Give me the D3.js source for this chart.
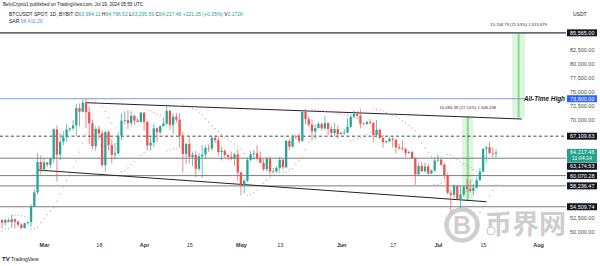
<!DOCTYPE html>
<meta charset="utf-8">
<script src="https://d3js.org/d3.v7.min.js"></script>
<style>
  body { margin: 0; background: #fff; }
  svg { display: block; font-family: "Liberation Sans", Arial, sans-serif; }
</style>
<div id="chart"></div>
<script>
// BTCUSDT spot, daily candles from Feb 16 to Jul 19 2024 (one value per day)
var firstDay = "2024-02-16";
var open = [51937,52160,51663,52122,51780,52284,51839,51304,50731,51571,51733,54522,57085,62504,
  61198,62440,62029,63168,68330,63801,66106,66925,68300,68498,69020,72125,71481,73083,71397,69403,65315,68390,67609,61937,67840,65501,63797,64037,67211,69880,69988,69451,70745,69893,69645,
  71333,69702,65446,65980,68508,67837,68896,69362,71631,69139,70587,70060,67195,63924,65739,63420,63793,61276,63512,63843,64994,64927,66837,66408,64277,64482,63756,63420,63113,63842,
  60637,58254,59123,62889,63891,64031,63161,62334,61187,63049,60792,60793,61448,62901,61552,66256,65231,67051,66940,66278,71446,70148,69166,67969,68549,69290,68507,69436,68398,67652,68353,
  67491,67707,67751,68805,70567,71082,70757,69342,69305,69648,69508,67322,68241,66757,66012,66191,66639,66490,65140,64960,64828,64096,64253,63180,60277,61804,60864,61706,60428,60986,
  62772,62900,62029,60173,56977,56662,58240,55857,56714,58051,57725,57344,57900,59231,60788,64870,65097,64119,63994];
var high = [52816,52191,52377,52485,52985,52372,52020,51548,51684,51950,54938,57588,64000,63676,
  63230,62433,63230,68500,69000,67637,67995,69347,68670,69931,72880,72965,73650,73777,72358,70043,68845,68957,68124,68106,68240,66650,65976,67622,71150,71561,71769,71552,70913,70355,71366,
  71342,69708,66914,69291,68725,69000,70327,72797,71758,71172,71256,71227,67932,65840,66868,64355,64486,64125,65481,65446,65665,67233,67199,67075,65275,64789,63923,64370,64174,64735,
  60780,59602,63320,64494,64646,65500,64390,62985,63421,63469,61490,61818,63450,63118,66444,66712,67459,67387,67700,71515,71979,70666,70096,69250,69610,69562,70687,69591,68935,69500,69044,
  67857,68409,70288,71063,71759,71625,71997,69560,69850,70195,69550,69999,68449,67316,66402,66998,67188,66491,65727,66482,65066,64521,64525,63369,62295,62480,62389,62225,61197,63058,
  63861,63288,62272,60498,57500,58475,58371,58236,58296,59470,59359,58526,59850,61420,64900,65388,66128,65133,64797];
var low = [51330,50625,51163,51715,50760,50625,50935,50500,50585,51280,50901,54450,56691,60364,
  60777,61600,61320,62387,59005,62848,65537,66115,67951,68150,67194,68845,71334,68555,65630,64780,64545,66594,61555,60775,64529,62260,63038,63825,66385,69280,68359,68903,69076,69601,69562,
  68110,64586,64493,65113,66011,67441,68824,69040,68210,67518,69571,65254,60660,62134,62274,61716,59768,60833,59651,63172,64278,64500,65864,63590,62783,63322,62824,62781,61795,59120,
  56553,56937,58848,62599,62822,62700,62300,60888,60769,60187,60492,60632,60750,61142,61330,64613,65119,66600,65857,66060,69162,68832,66300,66600,68500,68128,68250,67277,67124,67131,66670,
  67386,67316,67613,68565,70383,70119,68500,69210,69125,69172,66052,66902,66763,65056,65871,66034,65104,64060,64693,64559,63379,63943,63178,58402,60239,60712,60606,60063,60383,60712,
  62497,61807,59419,56771,53485,56018,55793,54260,56289,57157,57053,56590,57756,59200,60633,62432,63900,63245,63296];
var close = [52160,51663,52122,51780,52284,51839,51304,50731,51571,51733,54522,57085,62504,61198,
  62440,62029,63168,68330,63801,66106,66925,68300,68498,69020,72125,71481,73083,71397,69403,65315,68390,67609,61937,67840,65501,63797,64037,67211,69880,69988,69451,70745,69893,69645,71333,
  69702,65446,65980,68508,67837,68896,69362,71631,69139,70587,70060,67195,63924,65739,63420,63793,61276,63512,63843,64994,64927,66837,66408,64277,64482,63756,63420,63113,63842,60637,
  58254,59123,62889,63891,64031,63161,62334,61187,63049,60792,60793,61448,62901,61552,66256,65231,67051,66940,66278,71446,70148,69166,67969,68549,69290,68507,69436,68398,67652,68353,67491,
  67707,67751,68805,70567,71082,70757,69342,69305,69648,69508,67322,68241,66757,66012,66191,66639,66490,65140,64960,64828,64096,64253,63180,60277,61804,60864,61706,60428,60986,62772,
  62900,62029,60173,56977,56662,58240,55857,56714,58051,57725,57344,57900,59231,60788,64870,65097,64119,63994,64217];
// parabolic SAR dots, one per day
var sar = [49700,50199,50618,50625,52985,52985,52985,52891,52748,52613,50500,50589,50869,51657,
  52398,53094,53748,54363,55494,56845,58060,59154,60377,61453,62640,64278,65842,67404,73777,73777,73417,72885,72385,71519,70445,69478,68608,67825,60775,60983,61406,62028,62612,63161,63677,
  64163,71769,71625,71340,71066,70803,70551,64493,64659,64822,64982,65138,72797,72554,72316,72083,71855,71372,70908,70233,69598,69001,68440,67913,67417,66951,66513,66101,65714,65350,
  64852,64022,56553,56688,57000,57459,58102,58694,59238,59739,60187,60187,60492,60632,60750,61142,61330,62065,62712,63410,64707,66016,71979,71865,71754,71645,71538,71433,71330,71229,71130,
  71033,70938,70845,66300,66395,66610,66816,67127,67419,67694,71997,71878,71761,71647,71383,71130,70887,70654,70258,69886,69536,69043,68590,68049,66891,65872,64976,64187,63493,58402,
  58495,58710,58916,63861,63719,63310,62917,62540,62178,61830,61496,61176,60868,53485,54300,55300,56400,57450,58411];

// horizontal levels drawn on the chart
var resistanceTarget = 85565.00;
var allTimeHigh = 73800.00;
var dashedLevel = 67109.63;
var supports = [63174.53, 60070.28, 58236.47, 54509.74];
var lastPrice = 64217.46;
var countdown = "11:04:14";

// channel lines [date, price]
var channelTop = [["2024-03-14", 73089], ["2024-07-27", 70178]];
var channelBottom = [["2024-02-28", 61071], ["2024-07-16", 55411]];

// price range measurements
var ranges = [
  {from: "2024-07-08T12:00Z", to: "2024-07-12", low: 55576, high: 70660, label: "15,084.38 (27.14%) 1,508,438"},
  {from: "2024-07-24", to: "2024-07-28", low: 70406, high: 85565, label: "15,158.79 (21.53%) 1,515,879"}
];

var priceTicks = [50000, 52500, 55000, 57500, 60000, 62500, 65000, 67500, 70000, 72500, 75000, 77500, 80000, 82500, 85000];
var timeTicks = ["2024-03-01", "2024-03-18", "2024-04-01", "2024-04-15", "2024-05-01", "2024-05-13", "2024-06-01", "2024-06-17", "2024-07-01", "2024-07-15", "2024-08-01"];
var timeLabels = ["Mar", "18", "Apr", "15", "May", "13", "Jun", "17", "Jul", "15", "Aug"];

var W = 600, H = 266, plotRight = 566;
var upColor = "#26a69a", downColor = "#ef5350";

var svg = d3.select("#chart").append("svg").attr("width", W).attr("height", H);

var x = d3.scaleUtc()
  .domain([new Date("2024-03-01"), new Date("2024-08-01")])
  .range([44, 538]);
var y = d3.scaleLinear().domain([50000, 85000]).range([232, 36]);

var day0 = new Date(firstDay);
var candles = close.map(function(c, i) {
  return {date: d3.utcDay.offset(day0, i), o: open[i], h: high[i], l: low[i], c: c, sar: sar[i]};
});

// header
var head = svg.append("g").attr("fill", "#131722");
head.append("text").attr("x", 3).attr("y", 6).attr("font-size", 4.6)
  .text("BeInCrypto1 published on TradingView.com, Jul 19, 2024 05:55 UTC");
var l2 = head.append("text").attr("x", 9).attr("y", 15.5).attr("font-size", 5);
l2.append("tspan").text("BTCUSDT SPOT, 1D, BYBIT ");
[["O", "63,994.11"], ["H", "64,796.52"], ["L", "63,295.59"], ["C", "64,217.46"]].forEach(function(p) {
  l2.append("tspan").text(" " + p[0]);
  l2.append("tspan").attr("fill", upColor).text(p[1]);
});
l2.append("tspan").attr("fill", upColor).text(" +221.35 (+0.35%)");
l2.append("tspan").text(" V");
l2.append("tspan").attr("fill", upColor).text("3.172K");
var l3 = head.append("text").attr("x", 9).attr("y", 22.5).attr("font-size", 5);
l3.append("tspan").text("SAR ");
l3.append("tspan").attr("fill", "#5b8def").text("58,411.29");
svg.append("text").attr("x", 573).attr("y", 15.5).attr("font-size", 5).attr("fill", "#131722").text("USDT");

// price range boxes
ranges.forEach(function(r) {
  var x0 = x(new Date(r.from)), x1 = x(new Date(r.to));
  svg.append("rect").attr("x", x0).attr("width", x1 - x0)
    .attr("y", y(r.high)).attr("height", y(r.low) - y(r.high))
    .attr("fill", "rgba(76,200,80,0.18)");
  svg.append("line").attr("x1", (x0 + x1) / 2).attr("x2", (x0 + x1) / 2)
    .attr("y1", y(r.high)).attr("y2", y(r.low))
    .attr("stroke", "rgba(60,200,70,0.55)").attr("stroke-width", 2);
  svg.append("text").attr("x", (x0 + x1) / 2).attr("y", y(r.high) - 7)
    .attr("text-anchor", "middle").attr("font-size", 4.2).attr("fill", "#333").text(r.label);
});

// horizontal levels
function hline(p, color, width, dash, x2) {
  svg.append("line").attr("x1", 0).attr("x2", x2 || plotRight)
    .attr("y1", y(p)).attr("y2", y(p))
    .attr("stroke", color).attr("stroke-width", width)
    .attr("stroke-dasharray", dash || null);
}
hline(resistanceTarget, "#6a6d78", 1.6);
hline(allTimeHigh, "#7d9bd8", 1, null, 526);
hline(dashedLevel, "#333", 0.9, "3,2.5");
supports.forEach(function(p) { hline(p, "#5a5a5a", 0.8); });

svg.append("text").attr("x", 565).attr("y", y(allTimeHigh) + 2.2)
  .attr("text-anchor", "end").attr("font-size", 6.4).attr("font-weight", "bold")
  .attr("font-style", "italic").attr("fill", "#131722").text("All-Time High");

// channel
[channelTop, channelBottom].forEach(function(seg) {
  svg.append("line")
    .attr("x1", x(new Date(seg[0][0]))).attr("y1", y(seg[0][1]))
    .attr("x2", x(new Date(seg[1][0]))).attr("y2", y(seg[1][1]))
    .attr("stroke", "#222").attr("stroke-width", 1);
});

// SAR
svg.append("g").selectAll("circle").data(candles).join("circle")
  .attr("cx", function(d) { return x(d.date); })
  .attr("cy", function(d) { return y(d.sar); })
  .attr("r", 0.65).attr("fill", "#c7a3ab");

// candles
var cg = svg.append("g").selectAll("g").data(candles).join("g");
cg.append("line")
  .attr("x1", function(d) { return x(d.date); }).attr("x2", function(d) { return x(d.date); })
  .attr("y1", function(d) { return y(d.h); }).attr("y2", function(d) { return y(d.l); })
  .attr("stroke", function(d) { return d.c >= d.o ? upColor : downColor; })
  .attr("stroke-width", 0.7);
cg.append("rect")
  .attr("x", function(d) { return x(d.date) - 1.15; }).attr("width", 2.3)
  .attr("y", function(d) { return y(Math.max(d.o, d.c)); })
  .attr("height", function(d) { return Math.max(0.7, Math.abs(y(d.o) - y(d.c))); })
  .attr("fill", function(d) { return d.c >= d.o ? upColor : downColor; });

// watermark
var wm = svg.append("g").attr("opacity", 0.5);
wm.append("circle").attr("cx", 462).attr("cy", 225).attr("r", 15.5)
  .attr("fill", "none").attr("stroke", "#9e9e9e").attr("stroke-width", 4.5);
wm.append("text").attr("x", 462).attr("y", 234).attr("text-anchor", "middle")
  .attr("font-size", 25).attr("font-weight", "bold").attr("fill", "#9e9e9e").text("B");
wm.append("text").attr("x", 485).attr("y", 234).attr("font-size", 27).attr("font-weight", "bold")
  .attr("font-family", "Noto Sans CJK SC").attr("fill", "#9e9e9e").text("币界网");
wm.append("circle").attr("cx", 491).attr("cy", 231).attr("r", 4)
  .attr("fill", "#fff").attr("stroke", "#8a8a8a").attr("stroke-width", 1);

// price tags with simple overlap pushing
var tags = [
  {p: resistanceTarget, bg: "#131722", h: 7},
  {p: allTimeHigh, bg: "#2962ff", h: 7},
  {p: dashedLevel, bg: "#131722", h: 7},
  {p: lastPrice, bg: "#22a38a", h: 13.5, sub: countdown}
].concat(supports.map(function(p) { return {p: p, bg: "#131722", h: 7}; }));
tags.sort(function(a, b) { return b.p - a.p; });
var prevBottom = -Infinity;
tags.forEach(function(t) {
  t.top = Math.max(y(t.p) - 3.5, prevBottom + 0.4);
  prevBottom = t.top + t.h;
});

// right price axis, skipping labels hidden under a tag
var visibleTicks = priceTicks.filter(function(p) {
  var yy = y(p);
  return !tags.some(function(t) { return yy + 2.6 > t.top && yy - 2.6 < t.top + t.h; });
});
var yAxis = svg.append("g").attr("transform", "translate(568,0)")
  .call(d3.axisRight(y).tickValues(visibleTicks).tickSize(0).tickPadding(2).tickFormat(d3.format(",.2f")));
yAxis.select(".domain").remove();
yAxis.selectAll("text").attr("font-size", 5.5).attr("fill", "#4a4a4a").attr("font-family", "Liberation Sans, Arial");

tags.forEach(function(t) {
  svg.append("rect").attr("x", 567).attr("y", t.top).attr("width", 30).attr("height", t.h).attr("fill", t.bg);
  svg.append("text").attr("x", 570).attr("y", t.top + 5.4).attr("font-size", 5.5).attr("fill", "#fff")
    .text(d3.format(",.2f")(t.p));
  if (t.sub) {
    svg.append("text").attr("x", 572).attr("y", t.top + 11.6).attr("font-size", 5.2).attr("fill", "#fff").text(t.sub);
  }
});

// time axis
var tx = svg.append("g").attr("transform", "translate(0,243.5)")
  .call(d3.axisBottom(x).tickValues(timeTicks.map(function(d) { return new Date(d); }))
    .tickSize(0).tickPadding(0).tickFormat(function(d, i) { return timeLabels[i]; }));
tx.select(".domain").remove();
tx.selectAll("text").attr("font-size", 5.5).attr("fill", "#333").attr("font-family", "Liberation Sans, Arial")
  .attr("font-weight", function(d, i) { return i % 2 === 0 ? "bold" : "normal"; });

// footer
svg.append("text").attr("x", 2).attr("y", 261).attr("font-size", 6).attr("font-weight", "bold")
  .attr("fill", "#131722").text("TV");
svg.append("text").attr("x", 11).attr("y", 261).attr("font-size", 5).attr("fill", "#131722").text("TradingView");
</script>
